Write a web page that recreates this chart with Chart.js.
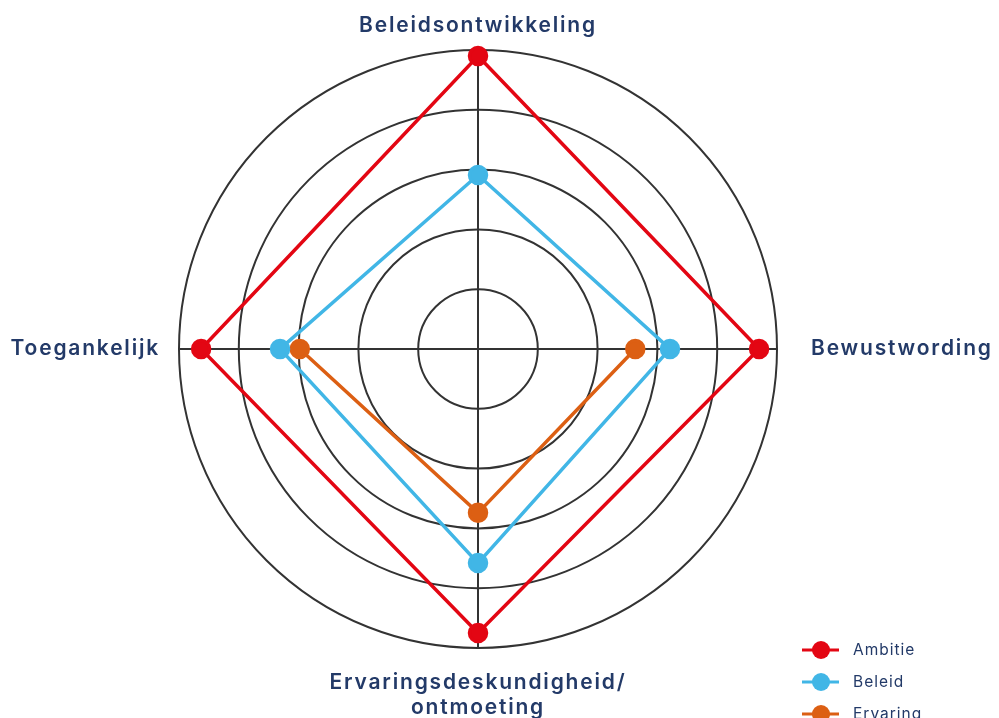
<!DOCTYPE html>
<html>
<head>
<meta charset="utf-8">
<script src="https://cdn.jsdelivr.net/npm/chart.js@4"></script>
<style>
  html, body { margin: 0; padding: 0; background: #fff; }
  #wrap { width: 999px; height: 718px; }
</style>
</head>
<body>
<div id="wrap"><canvas id="myChart" width="999" height="718"></canvas></div>
<script>
// axes (clockwise from top)
const categories = ["Beleidsontwikkeling", "Bewustwording", ["Ervaringsdeskundigheid/", "ontmoeting"], "Toegankelijk"];
const ambitie = [4.9, 4.7, 4.75, 4.63];
const beleid = [2.91, 3.21, 3.58, 3.31];
const ervaring = [null, 2.63, 2.74, 2.98];
const seriesNames = ["Ambitie", "Beleid", "Ervaring"];
const seriesColors = ["#e30613", "#41b6e6", "#dc5f13"];
const scaleMin = 0, scaleMax = 5, scaleStep = 1;

const navy = "#233a68";
const labelPad = [12, 34, 22, 19];

// put the radar where the reference has it
const CX = 478, CY = 349, R = 299;
function placeScale(scale) {
  const items = scale._pointLabelItems || [];
  const old = items.map((it, i) => scale.getPointPosition(i, scale.drawingArea + labelPad[i]));
  scale.xCenter = CX;
  scale.yCenter = CY;
  scale.drawingArea = R;
  items.forEach((it, i) => {
    const p = scale.getPointPosition(i, R + labelPad[i]);
    const dx = p.x - old[i].x, dy = p.y - old[i].y;
    it.x += dx; it.y += dy;
    it.left += dx; it.right += dx;
    it.top += dy; it.bottom += dy;
  });
}

// wider letters, closer to the reference font (canvas resize resets ctx, so set it late)
const spacing = {
  id: 'spacing',
  beforeUpdate(chart) { chart.ctx.letterSpacing = '1.8px'; },
  beforeDraw(chart) { chart.ctx.letterSpacing = '1.8px'; }
};

const legendPlugin = {
  id: 'sideLegend',
  afterDraw(chart) {
    const ctx = chart.ctx;
    ctx.save();
    ctx.letterSpacing = '1px';
    chart.data.datasets.forEach((ds, i) => {
      const y = 650 + i * 32;
      ctx.strokeStyle = ds.borderColor;
      ctx.lineWidth = 3;
      ctx.beginPath();
      ctx.moveTo(802, y);
      ctx.lineTo(839, y);
      ctx.stroke();
      ctx.fillStyle = ds.borderColor;
      ctx.beginPath();
      ctx.arc(821, y, 9, 0, Math.PI * 2);
      ctx.fill();
      ctx.fillStyle = navy;
      ctx.font = "400 15.5px Inter";
      ctx.textBaseline = "middle";
      ctx.textAlign = "left";
      ctx.fillText(ds.label, 853, y);
    });
    ctx.restore();
  }
};

const seriesData = [ambitie, beleid, ervaring];
new Chart(document.getElementById('myChart'), {
  type: 'radar',
  data: {
    labels: categories,
    datasets: seriesData.map((vals, i) => ({
      label: seriesNames[i],
      data: vals,
      borderColor: seriesColors[i],
      backgroundColor: seriesColors[i],
      pointBackgroundColor: seriesColors[i],
      pointBorderColor: seriesColors[i],
      borderWidth: 3.5,
      pointRadius: 8.5,
      fill: false,
      spanGaps: false
    }))
  },
  options: {
    responsive: false,
    animation: false,
    plugins: {
      legend: { display: false },
      tooltip: { enabled: false }
    },
    scales: {
      r: {
        min: scaleMin,
        max: scaleMax,
        ticks: { display: false, stepSize: scaleStep },
        grid: { circular: true, color: '#333', lineWidth: 2 },
        angleLines: { color: '#333', lineWidth: 2 },
        pointLabels: {
          color: navy,
          font: { family: 'Inter', size: 21, weight: '600' },
          padding: (ctx) => labelPad[ctx.index]
        },
        afterFit: placeScale
      }
    }
  },
  plugins: [spacing, legendPlugin]
});
</script>
</body>
</html>
